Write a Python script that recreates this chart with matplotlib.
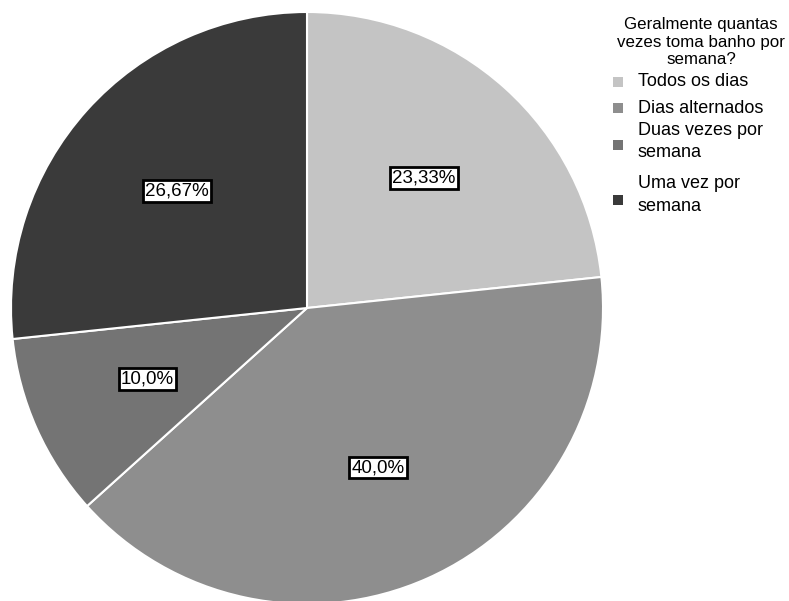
import matplotlib.pyplot as plt
import numpy as np
from matplotlib.patches import Rectangle

plt.rcParams['font.family'] = ['Liberation Sans', 'DejaVu Sans']

CATEGORIES = ['Todos os dias', 'Dias alternados', 'Duas vezes por\nsemana', 'Uma vez por\nsemana']
VALUES = [23.33, 40.0, 10.0, 26.67]
PCT_LABELS = ['23,33%', '40,0%', '10,0%', '26,67%']
COLORS = ['#c4c4c4', '#8e8e8e', '#747474', '#3a3a3a']
LEGEND_TITLE = 'Geralmente quantas\nvezes toma banho por\nsemana?'

W, H = 789, 601
# legend rows (pixel y from top): text centre, handle centre
ROW_TEXT_Y = [82, 108, 141.5, 195]
ROW_HANDLE_Y = [82, 108, 145, 200]


def main():
    fig = plt.figure(figsize=(W / 100, H / 100), dpi=100)
    r = 296
    cx, cy = 307, H - 308
    ax = fig.add_axes([(cx - r) / W, (cy - r) / H, 2 * r / W, 2 * r / H])

    ax.pie(VALUES, colors=COLORS, startangle=90, counterclock=False,
           wedgeprops=dict(edgecolor='white', linewidth=1.5))
    ax.set_xlim(-1, 1)
    ax.set_ylim(-1, 1)
    ax.set_aspect('auto')
    ax.axis('off')

    angle = 90.0
    for val, lab in zip(VALUES, PCT_LABELS):
        span = 360 * val / sum(VALUES)
        mid = np.deg2rad(angle - span / 2)
        angle -= span
        d = 0.59
        ax.text(d * np.cos(mid), d * np.sin(mid), lab, ha='center', va='center',
                fontsize=13.5,
                bbox=dict(boxstyle='square,pad=0.12', facecolor='white',
                          edgecolor='black', linewidth=2))

    # legend, laid out by hand
    fig.text(701 / W, 1 - 42 / H, LEGEND_TITLE, ha='center', va='center',
             fontsize=12.2, linespacing=1.2, multialignment='center')
    sz = 10
    for lab, col, ty, hy in zip(CATEGORIES, COLORS, ROW_TEXT_Y, ROW_HANDLE_Y):
        fig.add_artist(Rectangle(((613) / W, 1 - (hy + sz / 2) / H), sz / W, sz / H,
                                 transform=fig.transFigure, facecolor=col,
                                 edgecolor='none'))
        fig.text(638 / W, 1 - ty / H, lab, ha='left', va='center',
                 fontsize=13, linespacing=1.45)

    fig.savefig('out.png', dpi=100)


if __name__ == '__main__':
    main()
